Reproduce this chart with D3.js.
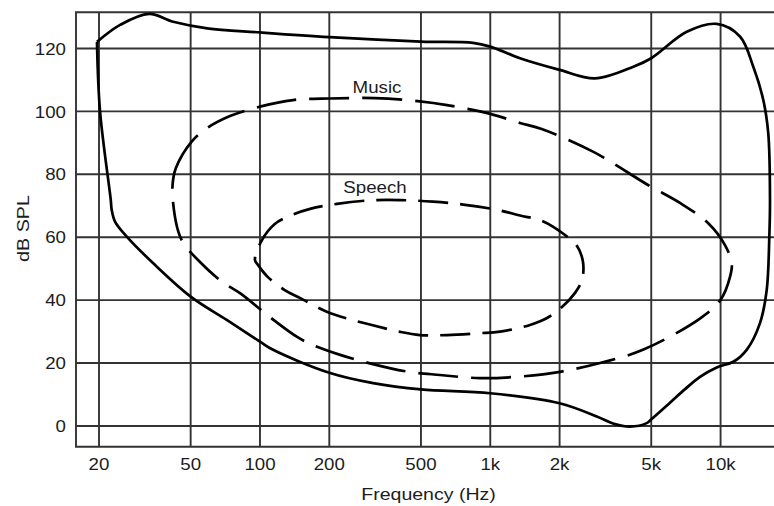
<!DOCTYPE html>
<html><head><meta charset="utf-8">
<script src="https://cdn.jsdelivr.net/npm/d3@7"></script>
<style>html,body{margin:0;padding:0;background:#fff}svg{display:block}</style>
</head><body>
<svg id="c" width="774" height="506"></svg>
<script>
// ---- data ----
const xTicks = [20, 50, 100, 200, 500, 1000, 2000, 5000, 10000];
const xTickLabels = ["20", "50", "100", "200", "500", "1k", "2k", "5k", "10k"];
const yTicks = [0, 20, 40, 60, 80, 100, 120];
const yTickLabels = ["0", "20", "40", "60", "80", "100", "120"];

// outer solid curve (threshold of hearing / pain), [Hz, dB SPL]
const hearingFreq = [19.6, 24.7, 33, 42, 59, 100, 200, 500, 842, 1000, 1346, 2000, 2850, 4180, 5000, 7130, 9620, 12140, 13870, 15330, 16110, 16390, 16280, 15860, 14830, 12980, 11360, 9620, 8140, 7010, 6030, 5000, 4780, 4040, 3410, 2900, 2000, 1000, 500, 310, 200, 114, 100, 71.7, 50, 34.4, 26.4, 23.5, 22.7, 22.5, 20.2, 19.6];
const hearingDb   = [122.1, 127.5, 131, 128.5, 126.4, 125.1, 123.6, 122.2, 121.8, 120.6, 116.9, 113.2, 110.5, 114.2, 116.9, 125.3, 127.8, 123.8, 114.2, 103.6, 93.0, 71.8, 60.2, 43.2, 32.7, 24.2, 20.4, 18.6, 15.6, 11.7, 7.4, 2.1, 0.9, -0.2, 0.8, 3.0, 7.2, 10.4, 11.6, 13.6, 16.9, 24.2, 26.8, 33.7, 41.1, 51.7, 60.2, 64.9, 68.7, 71.8, 100.1, 122.1];

// music region (dashed)
const musicFreq = [41.7, 43.1, 50.5, 58.7, 74.1, 100, 139, 201, 316, 495, 649, 1000, 1346, 1672, 2792, 4842, 6666, 8820, 10450, 11180, 10990, 10000, 8190, 4600, 2995, 2008, 1346, 902, 605, 434, 300, 223, 170, 145, 110.5, 81.9, 68.2, 54.9, 46.5, 44.2, 42.3];
const musicDb   = [76.3, 81.9, 90.4, 94.6, 98.5, 101.5, 103.6, 104.1, 104.2, 103.2, 102.0, 99.2, 96.3, 94.4, 87.2, 76.6, 70.9, 64.5, 57.5, 51.7, 47.4, 40.1, 34.3, 24.2, 20.0, 17.2, 15.7, 15.2, 16.2, 17.3, 19.9, 22.6, 25.7, 28.3, 34.6, 42.2, 45.9, 52.1, 58.1, 61.8, 68.7];

// speech region (dashed)
const speechFreq = [95.1, 102, 116, 135, 165, 216, 300, 406, 564, 777, 1070, 1346, 1677, 2112, 2380, 2527, 2502, 2334, 2048, 1764, 1488, 1102, 902, 649, 495, 406, 306, 246, 195, 149, 128, 108, 98];
const speechDb   = [52.8, 59.1, 64.2, 66.8, 69.0, 70.6, 71.7, 71.8, 71.3, 70.3, 68.7, 66.9, 65.2, 60.7, 57.2, 52.1, 46.4, 42.3, 37.8, 34.3, 32.1, 30.0, 29.5, 28.9, 28.9, 29.9, 32.1, 33.9, 36.3, 40.7, 43.2, 47.4, 51.2];

const regionLabels = ["Music", "Speech"];
const xTitle = "Frequency (Hz)";
const yTitle = "dB SPL";

// ---- layout ----
const L = 76, R = 774, T = 12.3, B = 446.7;
const svg = d3.select("#c");
const x = d3.scaleLog().domain([15.89, 17060]).range([L, R]);
const y = d3.scaleLinear().domain([-6.6, 131.5]).range([B, T]);
const gridColor = "#333";
const textColor = "#1c1c1c";
const font = "'Liberation Sans', Arial, Helvetica, sans-serif";

// grid
const g = svg.append("g");
g.selectAll("line.v").data(xTicks).join("line")
  .attr("x1", d => x(d)).attr("x2", d => x(d)).attr("y1", T).attr("y2", B)
  .attr("stroke", gridColor).attr("stroke-width", 1.9);
g.selectAll("line.h").data(yTicks).join("line")
  .attr("x1", L).attr("x2", R).attr("y1", d => y(d)).attr("y2", d => y(d))
  .attr("stroke", gridColor).attr("stroke-width", 1.9);
// frame (left, top, bottom)
g.append("path").attr("d", `M${R},${T}H${L}V${B}H${R}`)
  .attr("fill", "none").attr("stroke", gridColor).attr("stroke-width", 1.9);

function label(sel, tx, ty, sx, anchor, size, str, rot) {
  return sel.append("text")
    .attr("transform", `translate(${tx},${ty})` + (rot ? ` rotate(${rot})` : "") + ` scale(${sx},1)`)
    .attr("text-anchor", anchor).attr("font-family", font).attr("font-size", size)
    .attr("fill", textColor).text(str);
}

// tick labels
const xl = svg.append("g");
xTicks.forEach((d, i) => label(xl, x(d), 469.5, 1.1, "middle", 17, xTickLabels[i]));
const yl = svg.append("g");
yTicks.forEach((d, i) => label(yl, 66, y(d) + 6.2, 1.1, "end", 17, yTickLabels[i]));

// titles
label(svg, 428.5, 500, 1.15, "middle", 17, xTitle);
label(svg, 29, 228.5, 1.16, "middle", 17, yTitle, -90);

// curves
const line = d3.line().x(d => x(d[0])).y(d => y(d[1]));
const hearing = hearingFreq.map((f, i) => [f, hearingDb[i]]);
const music = musicFreq.map((f, i) => [f, musicDb[i]]);
const speech = speechFreq.map((f, i) => [f, speechDb[i]]);

svg.append("path").datum(hearing)
  .attr("d", line.curve(d3.curveCatmullRom.alpha(0.5)))
  .attr("fill", "none").attr("stroke", "#000").attr("stroke-width", 2.7)
  .attr("stroke-linejoin", "round");
svg.append("path").datum(music)
  .attr("d", line.curve(d3.curveCatmullRomClosed.alpha(0.5)))
  .attr("fill", "none").attr("stroke", "#000").attr("stroke-width", 2.7)
  .attr("stroke-dasharray", "40,13");
svg.append("path").datum(speech)
  .attr("d", line.curve(d3.curveCatmullRomClosed.alpha(0.5)))
  .attr("fill", "none").attr("stroke", "#000").attr("stroke-width", 2.7)
  .attr("stroke-dasharray", "30,12");

// region labels
label(svg, 377, 93, 1.1, "middle", 17, regionLabels[0]);
label(svg, 375, 192.5, 1.1, "middle", 17, regionLabels[1]);
</script>
</body></html>
